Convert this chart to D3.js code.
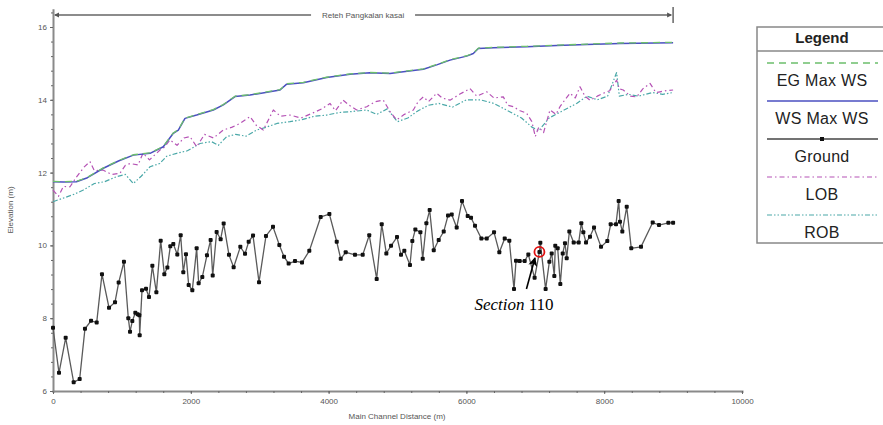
<!DOCTYPE html>
<html>
<head>
<meta charset="utf-8">
<script src="https://cdn.jsdelivr.net/npm/d3@7"></script>
<style>
  body { margin: 0; background: #fff; }
  svg { display: block; font-family: Arial, "Liberation Sans", sans-serif; }
</style>
</head>
<body>
<div id="chart"></div>
<script>
// ground profile (distance m, elevation m)
const groundX = [0, 87, 184, 300, 387, 464, 552, 634, 711, 813, 900, 953, 1030, 1093, 1118, 1151, 1195, 1229, 1253, 1258,
  1292, 1350, 1393, 1442, 1500, 1563, 1616, 1660, 1703, 1746, 1804, 1853, 1891, 1930, 1969, 2022, 2085, 2114, 2167, 2235,
  2288, 2318, 2375, 2433, 2477, 2554, 2622, 2719, 2787, 2840, 2903, 2990, 3091, 3193, 3285, 3353, 3420, 3512, 3614, 3720,
  3885, 4011, 4118, 4176, 4248, 4383, 4495, 4590, 4698, 4771, 4838, 4906, 4993, 5051, 5099, 5181, 5215, 5259, 5332, 5366,
  5419, 5467, 5526, 5598, 5671, 5733, 5787, 5859, 5936, 6019, 6067, 6125, 6217, 6295, 6401, 6478, 6556, 6623, 6691, 6720,
  6773, 6846, 6899, 6990, 7060, 7073, 7150, 7204, 7238, 7276, 7290, 7325, 7363, 7398, 7431, 7456, 7494, 7557, 7630, 7668,
  7697, 7736, 7794, 7852, 7954, 8045, 8094, 8171, 8210, 8229, 8263, 8327, 8393, 8534, 8704, 8795, 8931, 9000];
const groundY = [7.74, 6.50, 7.46, 6.24, 6.33, 7.71, 7.93, 7.88, 9.21, 8.29, 8.44, 8.98, 9.55, 8.00, 7.63, 7.92, 8.15, 8.11, 8.08, 7.53,
  8.77, 8.81, 8.58, 9.44, 8.71, 10.13, 9.21, 9.39, 9.98, 10.04, 9.75, 10.28, 9.26, 9.76, 8.91, 8.77, 9.92, 8.96, 9.13, 9.73,
  10.15, 9.17, 10.37, 10.17, 10.60, 9.74, 9.40, 9.96, 9.77, 10.10, 10.27, 8.99, 10.26, 10.51, 10.01, 9.69, 9.50, 9.57, 9.53, 9.85,
  10.78, 10.86, 10.10, 9.63, 9.81, 9.74, 9.74, 10.28, 9.08, 10.58, 9.78, 9.99, 10.23, 9.74, 9.85, 9.46, 10.12, 10.44, 10.36, 9.63,
  10.61, 10.97, 9.87, 10.15, 10.38, 10.82, 10.85, 10.49, 11.22, 10.81, 10.76, 10.54, 10.19, 10.19, 10.36, 9.81, 10.19, 10.13, 8.80, 9.58,
  9.57, 9.57, 9.75, 9.11, 9.82, 10.07, 8.80, 9.55, 9.78, 9.16, 9.99, 9.92, 8.94, 9.78, 10.06, 9.65, 10.38, 10.08, 10.08, 10.61,
  10.36, 10.08, 10.24, 10.49, 9.96, 10.12, 10.58, 10.58, 11.22, 10.65, 10.38, 11.06, 9.92, 9.96, 10.63, 10.56, 10.62, 10.62];

// water surface at max WS
const wsX = [0, 150, 340, 500, 730, 950, 1166, 1408, 1601, 1746, 1819, 1916, 2085, 2327, 2472, 2642, 2859, 3295, 3391, 3633,
  3972, 4311, 4601, 4891, 5084, 5375, 5569, 5762, 6004, 6100, 6173, 6391, 6875, 7310, 7746, 8229, 9000];
const wsY = [11.75, 11.74, 11.75, 11.86, 12.12, 12.32, 12.48, 12.53, 12.71, 13.08, 13.17, 13.49, 13.58, 13.72, 13.86, 14.09, 14.13, 14.27, 14.43, 14.47,
  14.61, 14.70, 14.74, 14.72, 14.77, 14.84, 14.96, 15.09, 15.20, 15.27, 15.41, 15.43, 15.46, 15.49, 15.52, 15.55, 15.57];
// energy grade at max WS
const egY = [11.76, 11.75, 11.76, 11.87, 12.13, 12.33, 12.49, 12.54, 12.72, 13.09, 13.18, 13.50, 13.59, 13.73, 13.87, 14.10, 14.14, 14.28, 14.44, 14.48,
  14.62, 14.71, 14.75, 14.73, 14.78, 14.85, 14.97, 15.10, 15.21, 15.28, 15.42, 15.44, 15.47, 15.50, 15.53, 15.56, 15.58];

// left overbank
const lobX = [0, 80, 150, 247, 330, 450, 537, 600, 725, 850, 972, 1050, 1118, 1234, 1306, 1400, 1553, 1620, 1698, 1800,
  1900, 1988, 2085, 2200, 2330, 2472, 2600, 2714, 2859, 2950, 3052, 3198, 3300, 3440, 3600, 3774, 3900, 4020, 4100, 4209,
  4300, 4408, 4553, 4680, 4794, 4900, 4988, 5100, 5230, 5300, 5375, 5450, 5569, 5650, 5762, 5900, 6052, 6150, 6295, 6400,
  6536, 6600, 6681, 6780, 6875, 6950, 7000, 7050, 7120, 7213, 7300, 7358, 7430, 7504, 7580, 7649, 7720, 7794, 7900, 7987,
  8080, 8181, 8220, 8277, 8380, 8471, 8560, 8665, 8750, 8810, 8900, 9000];
const lobY = [11.52, 11.35, 11.62, 11.61, 11.85, 12.15, 12.30, 12.05, 12.07, 11.95, 11.98, 12.20, 12.25, 12.21, 12.53, 12.35, 12.62, 12.70, 12.90, 12.75,
  12.95, 12.99, 12.71, 13.05, 12.95, 13.17, 13.25, 13.35, 13.54, 13.30, 13.17, 13.72, 13.55, 13.58, 13.50, 13.64, 13.75, 13.90, 13.70, 13.99,
  13.85, 13.72, 13.81, 13.95, 13.99, 13.65, 13.45, 13.60, 13.72, 13.95, 14.08, 13.95, 14.18, 14.05, 13.99, 14.15, 14.31, 14.10, 14.22, 14.05,
  14.08, 13.85, 13.81, 13.70, 13.63, 13.40, 12.99, 13.25, 13.10, 13.72, 13.60, 13.81, 14.00, 14.18, 14.05, 14.36, 14.10, 13.99, 14.10, 14.18,
  14.25, 14.54, 14.30, 14.27, 14.10, 14.08, 14.30, 14.45, 14.20, 14.22, 14.25, 14.27];

// right overbank
const robX = [0, 150, 300, 440, 600, 750, 924, 1050, 1166, 1280, 1408, 1550, 1650, 1795, 1950, 2134, 2300, 2400, 2521, 2650,
  2800, 2956, 3100, 3250, 3440, 3600, 3800, 3972, 4150, 4350, 4553, 4700, 4850, 5000, 5150, 5300, 5450, 5600, 5800, 6000,
  6200, 6400, 6600, 6800, 6950, 7050, 7200, 7400, 7600, 7750, 7900, 8050, 8180, 8220, 8350, 8500, 8700, 8850, 9000];
const robY = [11.20, 11.30, 11.40, 11.52, 11.70, 11.75, 11.89, 11.95, 11.70, 11.90, 12.16, 12.25, 12.45, 12.53, 12.60, 12.80, 12.85, 12.75, 12.99, 13.05,
  13.00, 13.17, 13.25, 13.35, 13.40, 13.45, 13.55, 13.58, 13.65, 13.68, 13.72, 13.60, 13.75, 13.40, 13.50, 13.70, 13.85, 13.90, 13.80, 14.00,
  14.00, 13.90, 13.70, 13.50, 13.25, 13.15, 13.50, 13.70, 13.90, 14.10, 14.00, 14.10, 14.75, 14.10, 14.15, 14.10, 14.20, 14.15, 14.20];

const xTicks = [0, 2000, 4000, 6000, 8000, 10000];
const yTicks = [6, 8, 10, 12, 14, 16];
const reachName = "Reteh Pangkalan kasai";
const reachEnd = 9000;
const section = { x: 7060, y: 9.82, label: "110" };

const legendItems = [
  { name: "EG  Max WS", color: "#6cbf6c", dash: "7,5", width: 1.3 },
  { name: "WS  Max WS", color: "#4a4fc0", dash: null, width: 1.5 },
  { name: "Ground", color: "#444", dash: null, width: 1.3, marker: true },
  { name: "LOB", color: "#b552b5", dash: "5,3,1.5,3", width: 1.2 },
  { name: "ROB", color: "#4aa8a8", dash: "5,2,1.5,2,1.5,2", width: 1.2 }
];

const W = 883, H = 425;
const svg = d3.select("#chart").append("svg").attr("width", W).attr("height", H);
svg.append("rect").attr("width", W).attr("height", H).attr("fill", "#fff");

const x = d3.scaleLinear().domain([0, 10000]).range([53, 742]);
const y = d3.scaleLinear().domain([6, 16]).range([391, 27]);

// axes
const axisColor = "#8a8a8a";
function styleAxis(g) {
  g.select(".domain").attr("stroke", axisColor).attr("stroke-width", 2);
  g.selectAll(".tick line").attr("stroke", "#666").attr("stroke-width", 1);
  g.selectAll(".tick text").attr("fill", "#555").attr("font-size", 8);
}

svg.append("g")
  .attr("transform", `translate(0,${y(6)})`)
  .call(d3.axisBottom(x).tickValues(d3.range(0, 10001, 400)).tickSize(2).tickFormat(""))
  .call(styleAxis);
svg.append("g")
  .attr("transform", `translate(0,${y(6)})`)
  .call(d3.axisBottom(x).tickValues(xTicks).tickSizeInner(3).tickSizeOuter(0).tickPadding(4).tickFormat(d3.format("d")))
  .call(styleAxis)
  .call(g => g.select(".domain").remove());

const yAx = y.copy().domain([6, 16.5]).range([y(6), y(16.5)]);
svg.append("g")
  .attr("transform", `translate(${x(0)},0)`)
  .call(d3.axisLeft(yAx).tickValues(d3.range(6, 16.41, 0.4)).tickSize(2).tickSizeOuter(0).tickFormat(""))
  .call(styleAxis);
svg.append("g")
  .attr("transform", `translate(${x(0)},0)`)
  .call(d3.axisLeft(y).tickValues(yTicks).tickSizeInner(3).tickSizeOuter(0).tickPadding(3).tickFormat(d3.format("d")))
  .call(styleAxis)
  .call(g => g.select(".domain").remove());

svg.append("text")
  .attr("transform", `translate(13,210) rotate(-90)`)
  .attr("text-anchor", "middle").attr("font-size", 8).attr("fill", "#555")
  .text("Elevation (m)");
svg.append("text")
  .attr("x", 397).attr("y", 419)
  .attr("text-anchor", "middle").attr("font-size", 8).attr("fill", "#555")
  .text("Main Channel Distance (m)");

// reach bracket
const rY = 15;
const rMid = (x(0) + x(reachEnd)) / 2;
svg.append("line").attr("x1", x(0) + 2).attr("x2", rMid - 52).attr("y1", rY).attr("y2", rY)
  .attr("stroke", "#666").attr("stroke-width", 1.5);
svg.append("line").attr("x1", rMid + 52).attr("x2", x(reachEnd) - 2).attr("y1", rY).attr("y2", rY)
  .attr("stroke", "#666").attr("stroke-width", 1.5);
svg.append("path").attr("d", `M${x(0) + 1},${rY} l5,-2.5 l0,5 z`).attr("fill", "#555");
svg.append("path").attr("d", `M${x(reachEnd) - 1},${rY} l-5,-2.5 l0,5 z`).attr("fill", "#555");
svg.append("line").attr("x1", x(reachEnd)).attr("x2", x(reachEnd)).attr("y1", 7).attr("y2", 23)
  .attr("stroke", "#666").attr("stroke-width", 1.5);
svg.append("text").attr("x", rMid).attr("y", rY + 3).attr("text-anchor", "middle")
  .attr("font-size", 8).attr("fill", "#555").text(reachName);

// series
const line = d3.line().x(d => x(d[0])).y(d => y(d[1]));
const zip = (a, b) => a.map((v, i) => [v, b[i]]);

function drawSeries(data, item) {
  const p = svg.append("path").datum(data)
    .attr("fill", "none").attr("stroke", item.color).attr("stroke-width", item.width)
    .attr("stroke-linejoin", "round").attr("d", line);
  if (item.dash) p.attr("stroke-dasharray", item.dash);
}

drawSeries(zip(robX, robY), legendItems[4]);
drawSeries(zip(lobX, lobY), legendItems[3]);
drawSeries(zip(wsX, wsY), legendItems[1]);
drawSeries(zip(wsX, egY), legendItems[0]);

const ground = zip(groundX, groundY);
svg.append("path").datum(ground)
  .attr("fill", "none").attr("stroke", "#5a5a5a").attr("stroke-width", 1.3).attr("d", line);
svg.append("g").selectAll("rect").data(ground).join("rect")
  .attr("x", d => x(d[0]) - 2).attr("y", d => y(d[1]) - 2)
  .attr("width", 4).attr("height", 4).attr("rx", 1)
  .attr("fill", "#111");

// Section 110 annotation
svg.append("defs").append("marker")
  .attr("id", "arrow").attr("viewBox", "0 0 10 10").attr("refX", 9).attr("refY", 5)
  .attr("markerWidth", 10).attr("markerHeight", 9).attr("markerUnits", "userSpaceOnUse")
  .attr("orient", "auto")
  .append("path").attr("d", "M0,0 L10,5 L0,10 L2.5,5 z").attr("fill", "#000");

const sx = x(section.x), sy = y(section.y);
svg.append("circle").attr("cx", sx).attr("cy", sy).attr("r", 5)
  .attr("fill", "none").attr("stroke", "#e01010").attr("stroke-width", 1.8);
svg.append("line").attr("x1", sx - 13).attr("y1", sy + 37).attr("x2", sx - 4.5).attr("y2", sy + 6)
  .attr("stroke", "#000").attr("stroke-width", 1.6).attr("marker-end", "url(#arrow)");
const st = svg.append("text").attr("x", sx - 65).attr("y", sy + 58)
  .attr("font-family", "'Liberation Serif', 'DejaVu Serif', serif").attr("font-size", 17).attr("fill", "#000");
st.append("tspan").attr("font-style", "italic").text("Section");
st.append("tspan").text(" " + section.label);

// legend
const lg = svg.append("g");
lg.append("rect").attr("x", 757).attr("y", 27).attr("width", 140).attr("height", 216)
  .attr("fill", "#fff").attr("stroke", "#888").attr("stroke-width", 1.5);
lg.append("line").attr("x1", 757).attr("x2", 897).attr("y1", 51).attr("y2", 51)
  .attr("stroke", "#888").attr("stroke-width", 1.5);
lg.append("text").attr("x", 822).attr("y", 43).attr("text-anchor", "middle")
  .attr("font-size", 15).attr("font-weight", "bold").attr("fill", "#222").text("Legend");
legendItems.forEach((it, i) => {
  const ly = 63 + i * 38;
  const l = lg.append("line").attr("x1", 767).attr("x2", 878).attr("y1", ly).attr("y2", ly)
    .attr("stroke", it.color).attr("stroke-width", it.width);
  if (it.dash) l.attr("stroke-dasharray", it.dash);
  if (it.marker) lg.append("rect").attr("x", 820).attr("y", ly - 2).attr("width", 4).attr("height", 4).attr("fill", "#111");
  lg.append("text").attr("x", 822).attr("y", ly + 23).attr("text-anchor", "middle")
    .attr("font-size", 16).attr("letter-spacing", 0.3).attr("fill", "#222").text(it.name);
});
</script>
</body>
</html>
